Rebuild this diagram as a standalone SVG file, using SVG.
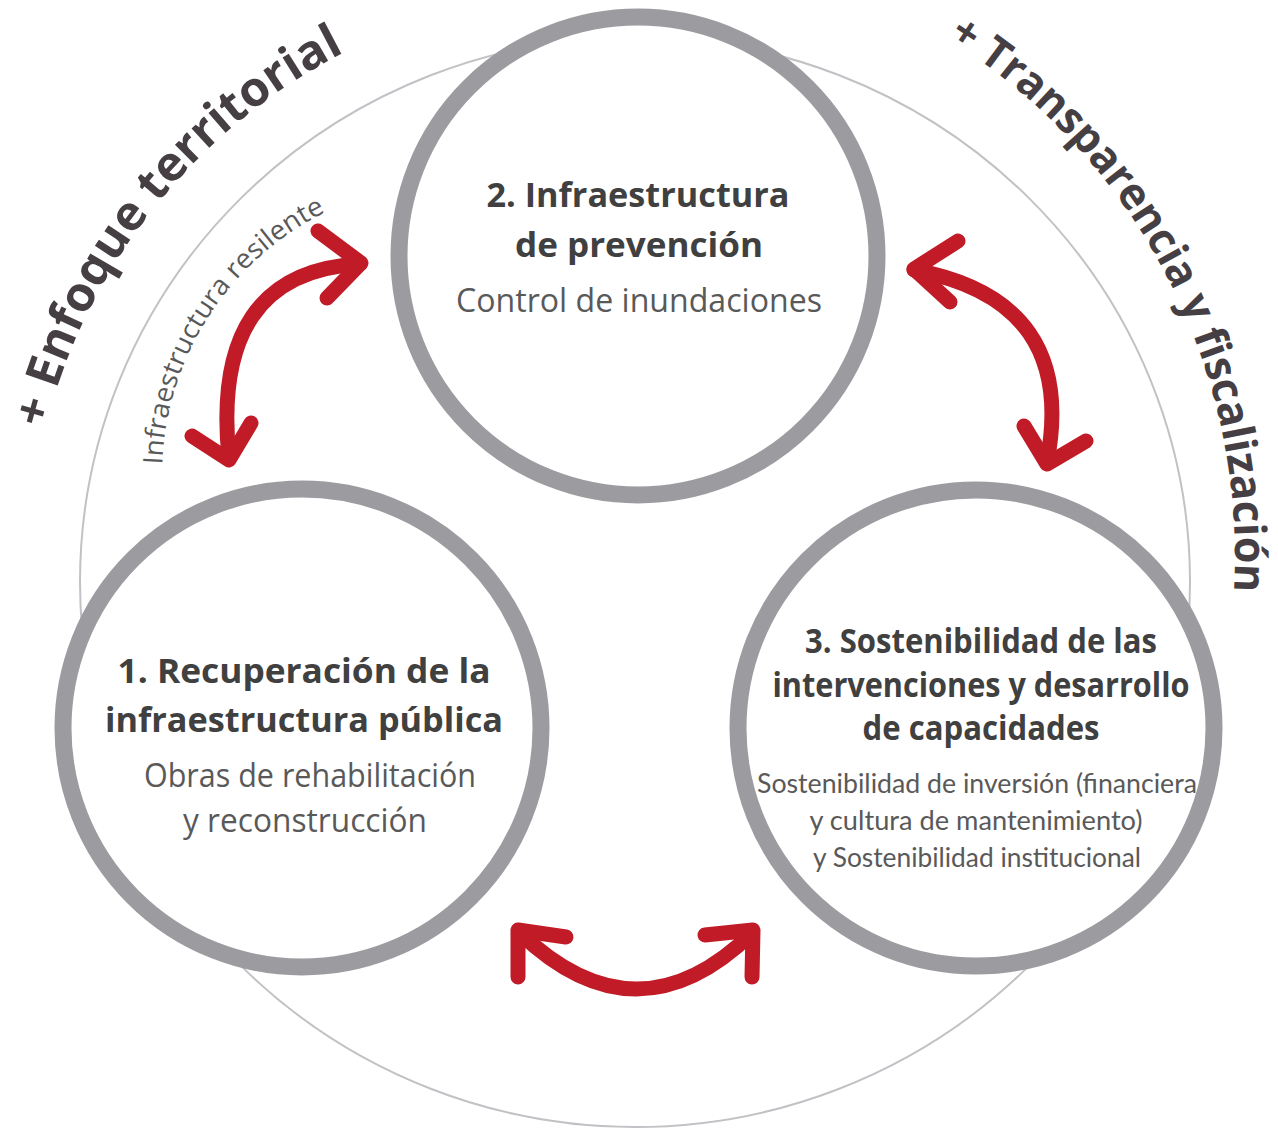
<svg xmlns="http://www.w3.org/2000/svg" width="1278" height="1129" viewBox="0 0 1278 1129">
<style>
.ring{fill:#fff;stroke:#9C9BA0;stroke-width:17}
.outer{fill:none;stroke:#C2C2C6;stroke-width:2}
.arr{fill:none;stroke:#C01B27;stroke-width:15;stroke-linecap:round;stroke-linejoin:round}
.t{font-family:"Open Sans","Noto Sans",sans-serif;font-weight:700;font-size:34px;fill:#404040;text-anchor:middle}
.s{font-family:"Open Sans","Noto Sans",sans-serif;font-size:32px;fill:#595959;text-anchor:middle}
.s3{font-family:Lato,"Open Sans",sans-serif;font-size:26px;fill:#595959;text-anchor:middle}
.curve{font-family:"Open Sans","Noto Sans",sans-serif;font-weight:700;fill:#453F44}
.small{font-family:"Open Sans","Noto Sans",sans-serif;font-size:27px;fill:#595959}
</style>
<defs>
<path id="pEnf" d="M45.2,428.7 A580,580 0 0 1 409.6,24"/>
<path id="pTra" d="M947.8,38.9 A611,611 0 0 1 1225.7,663.1"/>
<path id="pRes" d="M162.2,464.8 A293,293 0 0 1 354.8,199.7"/>
</defs>
<rect width="1278" height="1129" fill="#fff"/>
<ellipse class="outer" cx="635" cy="582" rx="555" ry="545"/>

<g id="node2">
<circle class="ring" cx="638" cy="256" r="239"/>
<text class="t" x="638" y="207" textLength="303" lengthAdjust="spacingAndGlyphs">2. Infraestructura</text>
<text class="t" x="639" y="257" textLength="248" lengthAdjust="spacingAndGlyphs">de prevención</text>
<text class="s" x="639" y="312" textLength="366" lengthAdjust="spacingAndGlyphs">Control de inundaciones</text>
</g>

<g id="node1">
<circle class="ring" cx="302" cy="728" r="239"/>
<text class="t" x="304" y="683" textLength="373" lengthAdjust="spacingAndGlyphs">1. Recuperación de la</text>
<text class="t" x="304" y="732" textLength="398" lengthAdjust="spacingAndGlyphs">infraestructura pública</text>
<text class="s" x="310" y="787" textLength="332" lengthAdjust="spacingAndGlyphs">Obras de rehabilitación</text>
<text class="s" x="305" y="832" textLength="244" lengthAdjust="spacingAndGlyphs">y reconstrucción</text>
</g>

<g id="node3">
<circle class="ring" cx="976" cy="728" r="238"/>
<text class="t" x="981" y="653" textLength="352" lengthAdjust="spacingAndGlyphs">3. Sostenibilidad de las</text>
<text class="t" x="981" y="697" textLength="417" lengthAdjust="spacingAndGlyphs">intervenciones y desarrollo</text>
<text class="t" x="981" y="740" textLength="237" lengthAdjust="spacingAndGlyphs">de capacidades</text>
<text class="s3" x="977" y="793" textLength="440" lengthAdjust="spacingAndGlyphs">Sostenibilidad de inversión (financiera</text>
<text class="s3" x="976" y="830" textLength="333" lengthAdjust="spacingAndGlyphs">y cultura de mantenimiento)</text>
<text class="s3" x="977" y="867" textLength="328" lengthAdjust="spacingAndGlyphs">y Sostenibilidad institucional</text>
</g>

<g id="connectors">
<path class="arr" d="M229,458 Q210,272 360,264"/>
<path class="arr" d="M318,231 L361,263 L327,298"/>
<path class="arr" d="M192,436 L229,460 L251,423"/>
<path class="arr" d="M914,270 Q1078,300 1047,462"/>
<path class="arr" d="M958,241 L914,269 L950,302"/>
<path class="arr" d="M1024,426 L1047,464 L1086,441"/>
<path class="arr" d="M520,933 Q637,1045 752,933"/>
<path class="arr" d="M566,937 L518,930 L518,977"/>
<path class="arr" d="M705,935 L753,930 L752,977"/>
</g>

<g id="labels">
<text class="curve" font-size="48"><textPath href="#pEnf" textLength="496" lengthAdjust="spacingAndGlyphs">+ Enfoque territorial</textPath></text>
<text class="curve" font-size="44"><textPath href="#pTra" textLength="653" lengthAdjust="spacingAndGlyphs">+ Transparencia y fiscalización</textPath></text>
<text class="small"><textPath href="#pRes" textLength="316" lengthAdjust="spacingAndGlyphs">Infraestructura resilente</textPath></text>
</g>
</svg>
